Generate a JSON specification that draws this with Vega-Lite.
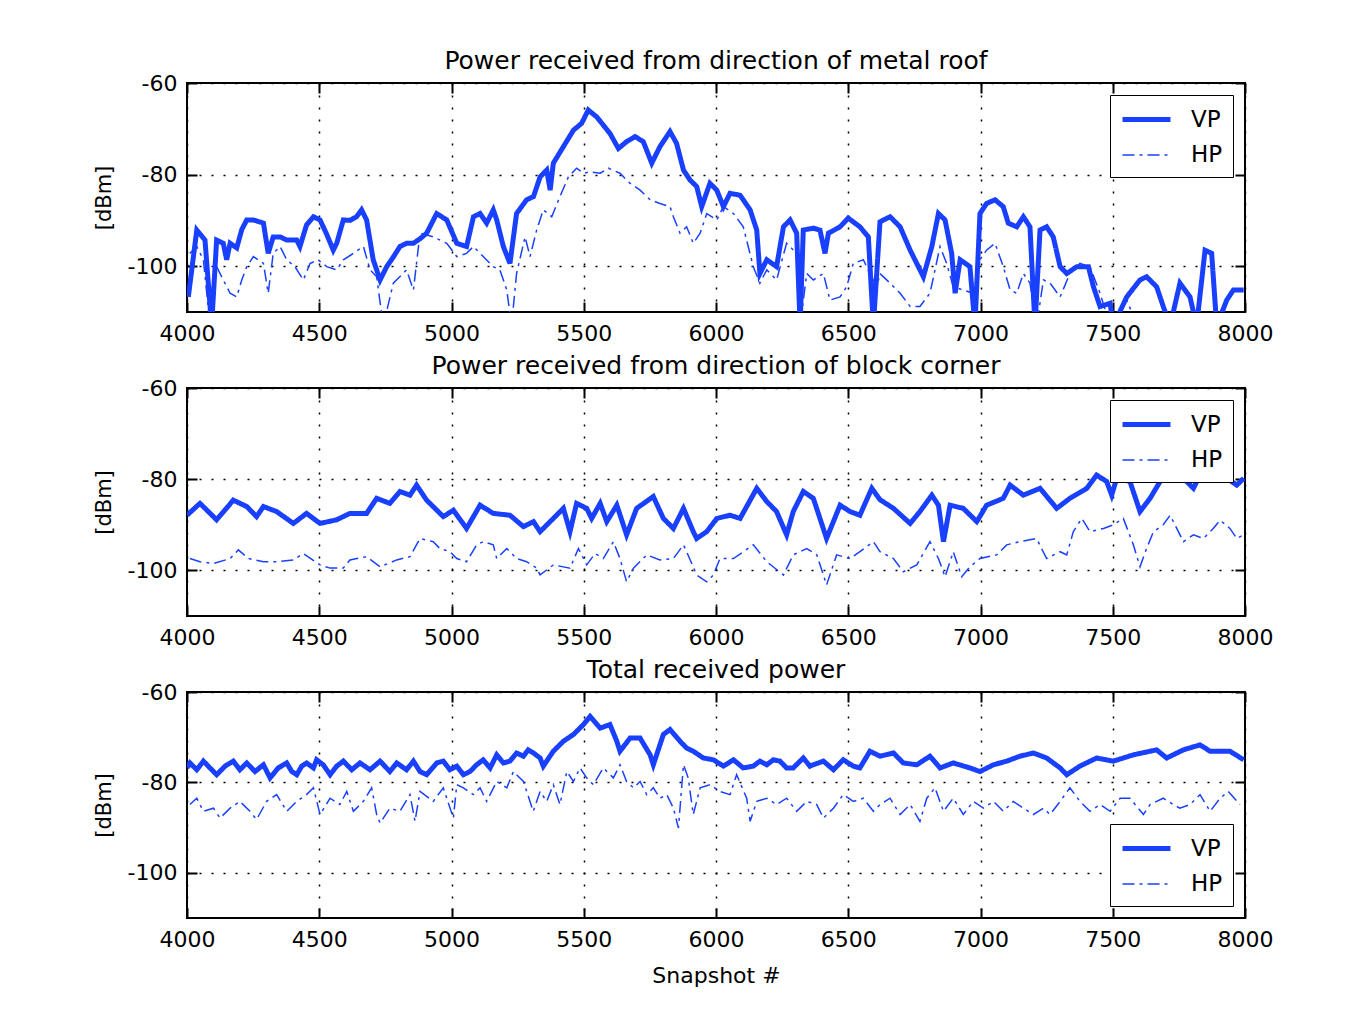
{
  "$schema": "https://vega.github.io/schema/vega-lite/v6.json",
  "autosize": {"type": "none"},
  "padding": {"left": 187, "top": 83, "right": 1168, "bottom": 944},
  "background": "white",
  "bounds": "flush",
  "spacing": 76,
  "config": {
    "font": "DejaVu Sans",
    "view": {"stroke": "black", "strokeWidth": 2},
    "axis": {"domain": false, "tickColor": "black", "tickWidth": 2, "tickSize": -10, "labelColor": "black", "labelFont": "DejaVu Sans", "labelFontSize": 22, "labelFlush": false, "labelOverlap": false, "labelBound": false, "labelExpr": "datum.value + ''", "gridColor": "black", "gridDash": [2, 10], "gridWidth": 1.5, "gridOpacity": 1, "titleFont": "DejaVu Sans", "titleFontSize": 21, "titleFontWeight": "normal", "titleColor": "black"},
    "title": {"font": "DejaVu Sans", "fontSize": 25, "fontWeight": "normal", "color": "black", "offset": -2, "baseline": "bottom"},
    "legend": {"fillColor": "white", "strokeColor": "black", "padding": 10, "labelFont": "DejaVu Sans", "labelFontSize": 23, "labelColor": "black", "symbolType": "M-2,0H2", "symbolSize": 576, "symbolOffset": 12, "symbolStrokeColor": "#1a40ff", "rowPadding": 10, "labelOffset": 30, "offset": 12}
  },
  "resolve": {"legend": {"strokeDash": "independent", "strokeWidth": "independent"}},
  "datasets": {
    "p1": [
      {"s":"VP","x":4005,"y":-106.7},{"s":"VP","x":4037,"y":-92.1},{"s":"VP","x":4068,"y":-94.3},{"s":"VP","x":4093,"y":-113},{"s":"VP","x":4112,"y":-94.3},{"s":"VP","x":4137,"y":-95.0},{"s":"VP","x":4150,"y":-98.6},{"s":"VP","x":4163,"y":-95.0},{"s":"VP","x":4188,"y":-96.0},{"s":"VP","x":4207,"y":-92.0},{"s":"VP","x":4226,"y":-89.9},{"s":"VP","x":4251,"y":-89.9},{"s":"VP","x":4289,"y":-90.6},{"s":"VP","x":4307,"y":-97.2},{"s":"VP","x":4326,"y":-93.6},{"s":"VP","x":4352,"y":-93.6},{"s":"VP","x":4377,"y":-94.3},{"s":"VP","x":4415,"y":-94.3},{"s":"VP","x":4427,"y":-95.7},{"s":"VP","x":4452,"y":-91.0},{"s":"VP","x":4478,"y":-89.2},{"s":"VP","x":4503,"y":-89.9},{"s":"VP","x":4528,"y":-93.0},{"s":"VP","x":4553,"y":-96.5},{"s":"VP","x":4566,"y":-95.0},{"s":"VP","x":4591,"y":-89.9},{"s":"VP","x":4616,"y":-90.0},{"s":"VP","x":4641,"y":-89.2},{"s":"VP","x":4660,"y":-87.7},{"s":"VP","x":4679,"y":-89.9},{"s":"VP","x":4704,"y":-98.6},{"s":"VP","x":4730,"y":-103.0},{"s":"VP","x":4755,"y":-100.1},{"s":"VP","x":4780,"y":-98.0},{"s":"VP","x":4805,"y":-95.7},{"s":"VP","x":4830,"y":-95.0},{"s":"VP","x":4856,"y":-95.0},{"s":"VP","x":4881,"y":-94.0},{"s":"VP","x":4906,"y":-92.8},{"s":"VP","x":4944,"y":-88.5},{"s":"VP","x":4982,"y":-89.9},{"s":"VP","x":5020,"y":-95.0},{"s":"VP","x":5057,"y":-95.7},{"s":"VP","x":5083,"y":-89.2},{"s":"VP","x":5108,"y":-88.5},{"s":"VP","x":5133,"y":-90.6},{"s":"VP","x":5158,"y":-87.7},{"s":"VP","x":5171,"y":-89.9},{"s":"VP","x":5196,"y":-95.7},{"s":"VP","x":5221,"y":-99.4},{"s":"VP","x":5246,"y":-88.5},{"s":"VP","x":5284,"y":-85.5},{"s":"VP","x":5310,"y":-84.8},{"s":"VP","x":5335,"y":-80.5},{"s":"VP","x":5360,"y":-79.0},{"s":"VP","x":5373,"y":-83.4},{"s":"VP","x":5385,"y":-77.5},{"s":"VP","x":5423,"y":-73.9},{"s":"VP","x":5461,"y":-70.3},{"s":"VP","x":5492,"y":-68.8},{"s":"VP","x":5517,"y":-65.9},{"s":"VP","x":5549,"y":-67.4},{"s":"VP","x":5599,"y":-71.0},{"s":"VP","x":5631,"y":-74.3},{"s":"VP","x":5662,"y":-72.8},{"s":"VP","x":5694,"y":-71.7},{"s":"VP","x":5725,"y":-72.8},{"s":"VP","x":5757,"y":-77.5},{"s":"VP","x":5788,"y":-73.9},{"s":"VP","x":5826,"y":-70.6},{"s":"VP","x":5851,"y":-73.2},{"s":"VP","x":5877,"y":-79.0},{"s":"VP","x":5902,"y":-81.2},{"s":"VP","x":5927,"y":-82.6},{"s":"VP","x":5946,"y":-87.0},{"s":"VP","x":5977,"y":-81.9},{"s":"VP","x":6003,"y":-83.4},{"s":"VP","x":6028,"y":-87.0},{"s":"VP","x":6053,"y":-84.1},{"s":"VP","x":6091,"y":-84.5},{"s":"VP","x":6129,"y":-87.7},{"s":"VP","x":6154,"y":-92.1},{"s":"VP","x":6166,"y":-101.6},{"s":"VP","x":6192,"y":-98.6},{"s":"VP","x":6229,"y":-100.1},{"s":"VP","x":6255,"y":-91.4},{"s":"VP","x":6280,"y":-89.9},{"s":"VP","x":6305,"y":-92.8},{"s":"VP","x":6318,"y":-113},{"s":"VP","x":6330,"y":-92.1},{"s":"VP","x":6368,"y":-91.7},{"s":"VP","x":6393,"y":-92.1},{"s":"VP","x":6412,"y":-97.2},{"s":"VP","x":6425,"y":-92.8},{"s":"VP","x":6469,"y":-91.4},{"s":"VP","x":6500,"y":-89.5},{"s":"VP","x":6544,"y":-91.4},{"s":"VP","x":6576,"y":-93.6},{"s":"VP","x":6595,"y":-113},{"s":"VP","x":6620,"y":-90.3},{"s":"VP","x":6658,"y":-89.2},{"s":"VP","x":6696,"y":-91.4},{"s":"VP","x":6734,"y":-96.5},{"s":"VP","x":6784,"y":-102.3},{"s":"VP","x":6816,"y":-95.7},{"s":"VP","x":6841,"y":-88.5},{"s":"VP","x":6866,"y":-89.9},{"s":"VP","x":6891,"y":-97.2},{"s":"VP","x":6904,"y":-105.9},{"s":"VP","x":6923,"y":-98.6},{"s":"VP","x":6960,"y":-100.1},{"s":"VP","x":6979,"y":-113},{"s":"VP","x":6998,"y":-88.5},{"s":"VP","x":7023,"y":-86.3},{"s":"VP","x":7055,"y":-85.5},{"s":"VP","x":7086,"y":-87.0},{"s":"VP","x":7105,"y":-90.6},{"s":"VP","x":7137,"y":-91.4},{"s":"VP","x":7162,"y":-89.2},{"s":"VP","x":7187,"y":-91.4},{"s":"VP","x":7206,"y":-113},{"s":"VP","x":7225,"y":-92.1},{"s":"VP","x":7250,"y":-91.4},{"s":"VP","x":7275,"y":-93.6},{"s":"VP","x":7301,"y":-100.1},{"s":"VP","x":7326,"y":-101.6},{"s":"VP","x":7364,"y":-100.1},{"s":"VP","x":7408,"y":-100.1},{"s":"VP","x":7427,"y":-104.5},{"s":"VP","x":7452,"y":-108.8},{"s":"VP","x":7490,"y":-108.1},{"s":"VP","x":7502,"y":-113},{"s":"VP","x":7553,"y":-106.7},{"s":"VP","x":7603,"y":-103.0},{"s":"VP","x":7628,"y":-102.3},{"s":"VP","x":7666,"y":-104.5},{"s":"VP","x":7691,"y":-108.8},{"s":"VP","x":7717,"y":-113},{"s":"VP","x":7754,"y":-103.7},{"s":"VP","x":7792,"y":-106.7},{"s":"VP","x":7817,"y":-113},{"s":"VP","x":7849,"y":-96.5},{"s":"VP","x":7874,"y":-97.2},{"s":"VP","x":7893,"y":-113},{"s":"VP","x":7931,"y":-107.4},{"s":"VP","x":7956,"y":-105.2},{"s":"VP","x":7995,"y":-105.2},
      {"s":"HP","x":4011,"y":-97.2},{"s":"HP","x":4037,"y":-95.7},{"s":"HP","x":4062,"y":-98.6},{"s":"HP","x":4087,"y":-113},{"s":"HP","x":4112,"y":-100.1},{"s":"HP","x":4137,"y":-103.0},{"s":"HP","x":4163,"y":-105.9},{"s":"HP","x":4188,"y":-106.7},{"s":"HP","x":4207,"y":-103.0},{"s":"HP","x":4226,"y":-100.1},{"s":"HP","x":4251,"y":-97.9},{"s":"HP","x":4289,"y":-99.4},{"s":"HP","x":4307,"y":-105.9},{"s":"HP","x":4326,"y":-97.2},{"s":"HP","x":4352,"y":-95.7},{"s":"HP","x":4377,"y":-98.6},{"s":"HP","x":4408,"y":-100.1},{"s":"HP","x":4440,"y":-103.0},{"s":"HP","x":4465,"y":-99.4},{"s":"HP","x":4496,"y":-98.6},{"s":"HP","x":4528,"y":-100.1},{"s":"HP","x":4566,"y":-100.8},{"s":"HP","x":4591,"y":-98.6},{"s":"HP","x":4629,"y":-97.2},{"s":"HP","x":4667,"y":-95.7},{"s":"HP","x":4692,"y":-100.8},{"s":"HP","x":4717,"y":-102.3},{"s":"HP","x":4742,"y":-113},{"s":"HP","x":4780,"y":-103.7},{"s":"HP","x":4830,"y":-100.8},{"s":"HP","x":4856,"y":-105.2},{"s":"HP","x":4881,"y":-92.8},{"s":"HP","x":4931,"y":-93.6},{"s":"HP","x":4982,"y":-95.0},{"s":"HP","x":5020,"y":-97.9},{"s":"HP","x":5057,"y":-97.2},{"s":"HP","x":5083,"y":-95.7},{"s":"HP","x":5120,"y":-97.9},{"s":"HP","x":5158,"y":-100.1},{"s":"HP","x":5183,"y":-100.8},{"s":"HP","x":5209,"y":-105.2},{"s":"HP","x":5227,"y":-113},{"s":"HP","x":5246,"y":-101.6},{"s":"HP","x":5278,"y":-93.6},{"s":"HP","x":5297,"y":-97.9},{"s":"HP","x":5322,"y":-92.1},{"s":"HP","x":5347,"y":-87.7},{"s":"HP","x":5379,"y":-89.2},{"s":"HP","x":5410,"y":-84.8},{"s":"HP","x":5442,"y":-80.5},{"s":"HP","x":5473,"y":-78.6},{"s":"HP","x":5499,"y":-79.7},{"s":"HP","x":5524,"y":-79.4},{"s":"HP","x":5562,"y":-79.7},{"s":"HP","x":5593,"y":-78.6},{"s":"HP","x":5637,"y":-79.7},{"s":"HP","x":5675,"y":-81.9},{"s":"HP","x":5713,"y":-83.4},{"s":"HP","x":5751,"y":-85.5},{"s":"HP","x":5788,"y":-86.3},{"s":"HP","x":5826,"y":-87.0},{"s":"HP","x":5839,"y":-89.2},{"s":"HP","x":5864,"y":-92.8},{"s":"HP","x":5889,"y":-91.4},{"s":"HP","x":5914,"y":-95.0},{"s":"HP","x":5940,"y":-92.8},{"s":"HP","x":5965,"y":-88.5},{"s":"HP","x":6003,"y":-89.9},{"s":"HP","x":6028,"y":-87.0},{"s":"HP","x":6066,"y":-88.5},{"s":"HP","x":6103,"y":-91.4},{"s":"HP","x":6141,"y":-100.1},{"s":"HP","x":6166,"y":-103.7},{"s":"HP","x":6192,"y":-100.8},{"s":"HP","x":6229,"y":-103.0},{"s":"HP","x":6267,"y":-95.0},{"s":"HP","x":6305,"y":-97.2},{"s":"HP","x":6318,"y":-113},{"s":"HP","x":6343,"y":-101.6},{"s":"HP","x":6368,"y":-103.0},{"s":"HP","x":6406,"y":-101.6},{"s":"HP","x":6431,"y":-107.4},{"s":"HP","x":6469,"y":-106.7},{"s":"HP","x":6494,"y":-104.5},{"s":"HP","x":6519,"y":-99.4},{"s":"HP","x":6557,"y":-98.6},{"s":"HP","x":6582,"y":-101.6},{"s":"HP","x":6608,"y":-104.5},{"s":"HP","x":6620,"y":-101.6},{"s":"HP","x":6658,"y":-103.7},{"s":"HP","x":6696,"y":-105.9},{"s":"HP","x":6734,"y":-108.8},{"s":"HP","x":6771,"y":-108.8},{"s":"HP","x":6809,"y":-105.9},{"s":"HP","x":6847,"y":-95.7},{"s":"HP","x":6872,"y":-99.4},{"s":"HP","x":6897,"y":-104.5},{"s":"HP","x":6935,"y":-105.2},{"s":"HP","x":6973,"y":-105.9},{"s":"HP","x":6998,"y":-98.6},{"s":"HP","x":7023,"y":-96.5},{"s":"HP","x":7055,"y":-95.0},{"s":"HP","x":7086,"y":-100.1},{"s":"HP","x":7112,"y":-105.2},{"s":"HP","x":7137,"y":-105.9},{"s":"HP","x":7162,"y":-101.6},{"s":"HP","x":7187,"y":-103.7},{"s":"HP","x":7212,"y":-113},{"s":"HP","x":7238,"y":-103.0},{"s":"HP","x":7263,"y":-103.7},{"s":"HP","x":7301,"y":-106.7},{"s":"HP","x":7338,"y":-101.6},{"s":"HP","x":7376,"y":-99.4},{"s":"HP","x":7414,"y":-100.1},{"s":"HP","x":7452,"y":-105.9},{"s":"HP","x":7490,"y":-113},{"s":"HP","x":7553,"y":-107.4},{"s":"HP","x":7600,"y":-114},{"s":"HP","x":7800,"y":-114},{"s":"HP","x":8000,"y":-114}
    ],
    "p2": [
      {"s":"VP","x":4000,"y":-87.9},{"s":"VP","x":4049,"y":-85.3},{"s":"VP","x":4112,"y":-88.9},{"s":"VP","x":4175,"y":-84.6},{"s":"VP","x":4226,"y":-86.0},{"s":"VP","x":4263,"y":-88.2},{"s":"VP","x":4289,"y":-86.0},{"s":"VP","x":4339,"y":-87.1},{"s":"VP","x":4402,"y":-89.7},{"s":"VP","x":4452,"y":-87.5},{"s":"VP","x":4503,"y":-89.7},{"s":"VP","x":4566,"y":-88.9},{"s":"VP","x":4616,"y":-87.5},{"s":"VP","x":4679,"y":-87.5},{"s":"VP","x":4717,"y":-84.2},{"s":"VP","x":4767,"y":-85.3},{"s":"VP","x":4805,"y":-82.7},{"s":"VP","x":4843,"y":-83.5},{"s":"VP","x":4868,"y":-81.3},{"s":"VP","x":4906,"y":-84.6},{"s":"VP","x":4969,"y":-88.2},{"s":"VP","x":5007,"y":-86.8},{"s":"VP","x":5057,"y":-90.8},{"s":"VP","x":5108,"y":-85.7},{"s":"VP","x":5158,"y":-87.5},{"s":"VP","x":5221,"y":-87.9},{"s":"VP","x":5272,"y":-90.4},{"s":"VP","x":5310,"y":-89.3},{"s":"VP","x":5335,"y":-91.5},{"s":"VP","x":5385,"y":-88.6},{"s":"VP","x":5423,"y":-86.4},{"s":"VP","x":5448,"y":-91.5},{"s":"VP","x":5473,"y":-85.3},{"s":"VP","x":5511,"y":-86.4},{"s":"VP","x":5530,"y":-88.6},{"s":"VP","x":5562,"y":-85.3},{"s":"VP","x":5587,"y":-89.3},{"s":"VP","x":5625,"y":-85.7},{"s":"VP","x":5662,"y":-92.2},{"s":"VP","x":5700,"y":-86.4},{"s":"VP","x":5763,"y":-83.8},{"s":"VP","x":5801,"y":-88.6},{"s":"VP","x":5839,"y":-90.8},{"s":"VP","x":5877,"y":-86.4},{"s":"VP","x":5914,"y":-91.5},{"s":"VP","x":5927,"y":-93.0},{"s":"VP","x":5965,"y":-91.5},{"s":"VP","x":6003,"y":-88.6},{"s":"VP","x":6053,"y":-87.9},{"s":"VP","x":6091,"y":-88.6},{"s":"VP","x":6154,"y":-82.0},{"s":"VP","x":6192,"y":-84.9},{"s":"VP","x":6229,"y":-87.1},{"s":"VP","x":6267,"y":-92.2},{"s":"VP","x":6292,"y":-87.1},{"s":"VP","x":6330,"y":-82.7},{"s":"VP","x":6368,"y":-84.2},{"s":"VP","x":6418,"y":-93.0},{"s":"VP","x":6469,"y":-85.7},{"s":"VP","x":6507,"y":-87.1},{"s":"VP","x":6544,"y":-87.9},{"s":"VP","x":6589,"y":-82.0},{"s":"VP","x":6620,"y":-84.5},{"s":"VP","x":6671,"y":-86.4},{"s":"VP","x":6734,"y":-89.7},{"s":"VP","x":6771,"y":-87.1},{"s":"VP","x":6816,"y":-83.5},{"s":"VP","x":6841,"y":-85.7},{"s":"VP","x":6860,"y":-93.7},{"s":"VP","x":6885,"y":-85.7},{"s":"VP","x":6935,"y":-86.4},{"s":"VP","x":6986,"y":-89.3},{"s":"VP","x":7023,"y":-85.7},{"s":"VP","x":7086,"y":-84.2},{"s":"VP","x":7112,"y":-81.3},{"s":"VP","x":7162,"y":-83.5},{"s":"VP","x":7225,"y":-82.0},{"s":"VP","x":7288,"y":-86.4},{"s":"VP","x":7338,"y":-84.2},{"s":"VP","x":7402,"y":-82.0},{"s":"VP","x":7439,"y":-79.1},{"s":"VP","x":7477,"y":-80.5},{"s":"VP","x":7496,"y":-83.5},{"s":"VP","x":7515,"y":-79.8},{"s":"VP","x":7565,"y":-80.5},{"s":"VP","x":7603,"y":-87.1},{"s":"VP","x":7641,"y":-84.2},{"s":"VP","x":7679,"y":-80.5},{"s":"VP","x":7704,"y":-78.3},{"s":"VP","x":7754,"y":-79.0},{"s":"VP","x":7805,"y":-82.0},{"s":"VP","x":7830,"y":-79.1},{"s":"VP","x":7880,"y":-79.0},{"s":"VP","x":7931,"y":-79.8},{"s":"VP","x":7969,"y":-81.3},{"s":"VP","x":7995,"y":-79.8},
      {"s":"HP","x":4011,"y":-97.4},{"s":"HP","x":4049,"y":-98.1},{"s":"HP","x":4100,"y":-98.5},{"s":"HP","x":4163,"y":-97.4},{"s":"HP","x":4194,"y":-95.5},{"s":"HP","x":4232,"y":-97.4},{"s":"HP","x":4289,"y":-98.1},{"s":"HP","x":4339,"y":-98.1},{"s":"HP","x":4402,"y":-97.7},{"s":"HP","x":4440,"y":-96.3},{"s":"HP","x":4503,"y":-98.8},{"s":"HP","x":4541,"y":-99.5},{"s":"HP","x":4591,"y":-99.5},{"s":"HP","x":4616,"y":-97.7},{"s":"HP","x":4679,"y":-97.0},{"s":"HP","x":4730,"y":-99.2},{"s":"HP","x":4793,"y":-97.7},{"s":"HP","x":4843,"y":-97.0},{"s":"HP","x":4881,"y":-93.0},{"s":"HP","x":4931,"y":-93.7},{"s":"HP","x":4956,"y":-95.2},{"s":"HP","x":4994,"y":-95.9},{"s":"HP","x":5020,"y":-97.4},{"s":"HP","x":5057,"y":-98.1},{"s":"HP","x":5095,"y":-94.4},{"s":"HP","x":5120,"y":-93.7},{"s":"HP","x":5158,"y":-94.4},{"s":"HP","x":5171,"y":-97.4},{"s":"HP","x":5209,"y":-95.2},{"s":"HP","x":5246,"y":-97.4},{"s":"HP","x":5284,"y":-98.1},{"s":"HP","x":5322,"y":-99.5},{"s":"HP","x":5335,"y":-101.0},{"s":"HP","x":5385,"y":-98.8},{"s":"HP","x":5448,"y":-99.5},{"s":"HP","x":5480,"y":-95.2},{"s":"HP","x":5511,"y":-98.8},{"s":"HP","x":5543,"y":-96.3},{"s":"HP","x":5574,"y":-97.4},{"s":"HP","x":5612,"y":-93.7},{"s":"HP","x":5637,"y":-97.4},{"s":"HP","x":5662,"y":-102.5},{"s":"HP","x":5688,"y":-99.5},{"s":"HP","x":5738,"y":-96.6},{"s":"HP","x":5788,"y":-97.7},{"s":"HP","x":5839,"y":-97.4},{"s":"HP","x":5877,"y":-94.4},{"s":"HP","x":5889,"y":-95.9},{"s":"HP","x":5927,"y":-101.0},{"s":"HP","x":5965,"y":-102.5},{"s":"HP","x":5990,"y":-101.0},{"s":"HP","x":6015,"y":-97.4},{"s":"HP","x":6066,"y":-97.4},{"s":"HP","x":6141,"y":-94.4},{"s":"HP","x":6192,"y":-98.1},{"s":"HP","x":6255,"y":-101.0},{"s":"HP","x":6292,"y":-96.6},{"s":"HP","x":6343,"y":-95.2},{"s":"HP","x":6381,"y":-96.6},{"s":"HP","x":6406,"y":-101.0},{"s":"HP","x":6418,"y":-103.2},{"s":"HP","x":6456,"y":-96.6},{"s":"HP","x":6507,"y":-97.4},{"s":"HP","x":6544,"y":-95.9},{"s":"HP","x":6595,"y":-93.7},{"s":"HP","x":6620,"y":-95.9},{"s":"HP","x":6671,"y":-97.4},{"s":"HP","x":6708,"y":-100.3},{"s":"HP","x":6759,"y":-98.8},{"s":"HP","x":6809,"y":-93.7},{"s":"HP","x":6841,"y":-97.4},{"s":"HP","x":6866,"y":-101.4},{"s":"HP","x":6897,"y":-95.9},{"s":"HP","x":6929,"y":-101.4},{"s":"HP","x":6960,"y":-99.2},{"s":"HP","x":6998,"y":-97.4},{"s":"HP","x":7061,"y":-96.6},{"s":"HP","x":7099,"y":-94.4},{"s":"HP","x":7149,"y":-93.7},{"s":"HP","x":7212,"y":-93.0},{"s":"HP","x":7250,"y":-97.4},{"s":"HP","x":7301,"y":-95.9},{"s":"HP","x":7326,"y":-96.6},{"s":"HP","x":7351,"y":-91.5},{"s":"HP","x":7383,"y":-88.6},{"s":"HP","x":7414,"y":-91.5},{"s":"HP","x":7465,"y":-90.8},{"s":"HP","x":7502,"y":-90.0},{"s":"HP","x":7540,"y":-88.6},{"s":"HP","x":7578,"y":-94.4},{"s":"HP","x":7603,"y":-99.2},{"s":"HP","x":7628,"y":-95.2},{"s":"HP","x":7654,"y":-91.5},{"s":"HP","x":7691,"y":-90.0},{"s":"HP","x":7717,"y":-87.9},{"s":"HP","x":7742,"y":-90.8},{"s":"HP","x":7767,"y":-93.7},{"s":"HP","x":7805,"y":-92.2},{"s":"HP","x":7843,"y":-93.0},{"s":"HP","x":7880,"y":-90.8},{"s":"HP","x":7906,"y":-89.0},{"s":"HP","x":7943,"y":-90.8},{"s":"HP","x":7969,"y":-93.0},{"s":"HP","x":7995,"y":-92.2}
    ],
    "p3": [
      {"s":"VP","x":4000,"y":-76.8},{"s":"VP","x":4011,"y":-75.7},{"s":"VP","x":4037,"y":-77.2},{"s":"VP","x":4062,"y":-75.3},{"s":"VP","x":4087,"y":-76.8},{"s":"VP","x":4112,"y":-78.3},{"s":"VP","x":4144,"y":-76.4},{"s":"VP","x":4175,"y":-75.3},{"s":"VP","x":4200,"y":-77.2},{"s":"VP","x":4226,"y":-75.7},{"s":"VP","x":4257,"y":-77.6},{"s":"VP","x":4289,"y":-76.1},{"s":"VP","x":4314,"y":-79.0},{"s":"VP","x":4345,"y":-76.8},{"s":"VP","x":4377,"y":-75.7},{"s":"VP","x":4396,"y":-77.6},{"s":"VP","x":4415,"y":-78.3},{"s":"VP","x":4434,"y":-76.4},{"s":"VP","x":4452,"y":-75.7},{"s":"VP","x":4478,"y":-76.8},{"s":"VP","x":4490,"y":-75.0},{"s":"VP","x":4515,"y":-76.1},{"s":"VP","x":4541,"y":-78.3},{"s":"VP","x":4566,"y":-76.4},{"s":"VP","x":4591,"y":-75.3},{"s":"VP","x":4623,"y":-77.2},{"s":"VP","x":4654,"y":-75.7},{"s":"VP","x":4692,"y":-77.2},{"s":"VP","x":4730,"y":-75.3},{"s":"VP","x":4767,"y":-77.6},{"s":"VP","x":4793,"y":-75.7},{"s":"VP","x":4830,"y":-77.2},{"s":"VP","x":4856,"y":-75.3},{"s":"VP","x":4881,"y":-77.6},{"s":"VP","x":4906,"y":-78.3},{"s":"VP","x":4944,"y":-75.7},{"s":"VP","x":4969,"y":-75.3},{"s":"VP","x":4994,"y":-77.2},{"s":"VP","x":5020,"y":-76.4},{"s":"VP","x":5045,"y":-78.3},{"s":"VP","x":5070,"y":-77.6},{"s":"VP","x":5095,"y":-76.1},{"s":"VP","x":5120,"y":-75.0},{"s":"VP","x":5146,"y":-76.8},{"s":"VP","x":5171,"y":-73.9},{"s":"VP","x":5196,"y":-75.7},{"s":"VP","x":5221,"y":-75.3},{"s":"VP","x":5246,"y":-73.5},{"s":"VP","x":5272,"y":-74.2},{"s":"VP","x":5290,"y":-72.8},{"s":"VP","x":5310,"y":-73.5},{"s":"VP","x":5335,"y":-74.6},{"s":"VP","x":5347,"y":-76.4},{"s":"VP","x":5385,"y":-73.1},{"s":"VP","x":5423,"y":-70.9},{"s":"VP","x":5461,"y":-69.4},{"s":"VP","x":5499,"y":-67.2},{"s":"VP","x":5524,"y":-65.4},{"s":"VP","x":5562,"y":-68.0},{"s":"VP","x":5599,"y":-67.2},{"s":"VP","x":5625,"y":-70.9},{"s":"VP","x":5637,"y":-73.1},{"s":"VP","x":5675,"y":-70.2},{"s":"VP","x":5713,"y":-70.2},{"s":"VP","x":5751,"y":-73.9},{"s":"VP","x":5763,"y":-76.1},{"s":"VP","x":5801,"y":-69.4},{"s":"VP","x":5826,"y":-68.3},{"s":"VP","x":5864,"y":-70.9},{"s":"VP","x":5889,"y":-72.4},{"s":"VP","x":5914,"y":-73.1},{"s":"VP","x":5952,"y":-74.6},{"s":"VP","x":5990,"y":-75.0},{"s":"VP","x":6028,"y":-76.4},{"s":"VP","x":6066,"y":-75.0},{"s":"VP","x":6103,"y":-76.8},{"s":"VP","x":6141,"y":-76.4},{"s":"VP","x":6166,"y":-75.3},{"s":"VP","x":6192,"y":-76.1},{"s":"VP","x":6217,"y":-75.0},{"s":"VP","x":6242,"y":-75.3},{"s":"VP","x":6267,"y":-76.8},{"s":"VP","x":6292,"y":-76.8},{"s":"VP","x":6330,"y":-74.6},{"s":"VP","x":6355,"y":-76.4},{"s":"VP","x":6368,"y":-76.1},{"s":"VP","x":6406,"y":-75.3},{"s":"VP","x":6444,"y":-77.2},{"s":"VP","x":6481,"y":-75.0},{"s":"VP","x":6519,"y":-76.4},{"s":"VP","x":6544,"y":-76.8},{"s":"VP","x":6582,"y":-73.1},{"s":"VP","x":6620,"y":-74.2},{"s":"VP","x":6671,"y":-73.5},{"s":"VP","x":6708,"y":-75.7},{"s":"VP","x":6759,"y":-76.1},{"s":"VP","x":6809,"y":-74.2},{"s":"VP","x":6847,"y":-76.8},{"s":"VP","x":6897,"y":-75.7},{"s":"VP","x":6960,"y":-76.8},{"s":"VP","x":6998,"y":-77.6},{"s":"VP","x":7049,"y":-76.1},{"s":"VP","x":7099,"y":-75.3},{"s":"VP","x":7149,"y":-74.2},{"s":"VP","x":7200,"y":-73.5},{"s":"VP","x":7250,"y":-74.6},{"s":"VP","x":7301,"y":-76.8},{"s":"VP","x":7326,"y":-78.3},{"s":"VP","x":7376,"y":-76.4},{"s":"VP","x":7439,"y":-74.6},{"s":"VP","x":7502,"y":-75.3},{"s":"VP","x":7578,"y":-73.9},{"s":"VP","x":7666,"y":-72.8},{"s":"VP","x":7704,"y":-74.6},{"s":"VP","x":7767,"y":-72.8},{"s":"VP","x":7830,"y":-71.7},{"s":"VP","x":7868,"y":-73.1},{"s":"VP","x":7943,"y":-73.1},{"s":"VP","x":7995,"y":-75.0},
      {"s":"HP","x":4011,"y":-84.9},{"s":"HP","x":4037,"y":-83.5},{"s":"HP","x":4062,"y":-86.4},{"s":"HP","x":4100,"y":-85.7},{"s":"HP","x":4125,"y":-87.9},{"s":"HP","x":4163,"y":-85.7},{"s":"HP","x":4200,"y":-84.2},{"s":"HP","x":4238,"y":-86.4},{"s":"HP","x":4263,"y":-88.2},{"s":"HP","x":4301,"y":-84.2},{"s":"HP","x":4339,"y":-82.7},{"s":"HP","x":4377,"y":-86.4},{"s":"HP","x":4415,"y":-84.2},{"s":"HP","x":4452,"y":-82.7},{"s":"HP","x":4478,"y":-81.2},{"s":"HP","x":4503,"y":-87.1},{"s":"HP","x":4541,"y":-83.5},{"s":"HP","x":4578,"y":-84.9},{"s":"HP","x":4604,"y":-82.0},{"s":"HP","x":4629,"y":-86.4},{"s":"HP","x":4667,"y":-84.2},{"s":"HP","x":4698,"y":-81.2},{"s":"HP","x":4717,"y":-87.1},{"s":"HP","x":4730,"y":-89.0},{"s":"HP","x":4767,"y":-85.7},{"s":"HP","x":4805,"y":-86.4},{"s":"HP","x":4843,"y":-82.7},{"s":"HP","x":4862,"y":-88.6},{"s":"HP","x":4881,"y":-82.0},{"s":"HP","x":4931,"y":-84.2},{"s":"HP","x":4969,"y":-81.2},{"s":"HP","x":5007,"y":-87.9},{"s":"HP","x":5020,"y":-80.5},{"s":"HP","x":5045,"y":-81.2},{"s":"HP","x":5083,"y":-82.7},{"s":"HP","x":5108,"y":-81.2},{"s":"HP","x":5133,"y":-84.2},{"s":"HP","x":5171,"y":-79.8},{"s":"HP","x":5209,"y":-81.2},{"s":"HP","x":5234,"y":-77.6},{"s":"HP","x":5272,"y":-79.8},{"s":"HP","x":5309,"y":-86.4},{"s":"HP","x":5335,"y":-82.0},{"s":"HP","x":5360,"y":-84.2},{"s":"HP","x":5385,"y":-80.5},{"s":"HP","x":5410,"y":-84.9},{"s":"HP","x":5436,"y":-77.6},{"s":"HP","x":5461,"y":-79.8},{"s":"HP","x":5486,"y":-76.8},{"s":"HP","x":5511,"y":-79.0},{"s":"HP","x":5536,"y":-80.5},{"s":"HP","x":5574,"y":-76.8},{"s":"HP","x":5612,"y":-79.0},{"s":"HP","x":5637,"y":-76.1},{"s":"HP","x":5662,"y":-79.8},{"s":"HP","x":5688,"y":-81.2},{"s":"HP","x":5713,"y":-79.8},{"s":"HP","x":5738,"y":-82.7},{"s":"HP","x":5763,"y":-81.2},{"s":"HP","x":5788,"y":-83.5},{"s":"HP","x":5814,"y":-82.7},{"s":"HP","x":5839,"y":-85.7},{"s":"HP","x":5858,"y":-90.1},{"s":"HP","x":5877,"y":-76.1},{"s":"HP","x":5895,"y":-79.0},{"s":"HP","x":5914,"y":-87.1},{"s":"HP","x":5940,"y":-81.2},{"s":"HP","x":5977,"y":-80.5},{"s":"HP","x":6015,"y":-82.0},{"s":"HP","x":6053,"y":-82.7},{"s":"HP","x":6078,"y":-78.3},{"s":"HP","x":6116,"y":-83.5},{"s":"HP","x":6129,"y":-88.6},{"s":"HP","x":6154,"y":-84.2},{"s":"HP","x":6192,"y":-83.5},{"s":"HP","x":6229,"y":-84.9},{"s":"HP","x":6267,"y":-83.5},{"s":"HP","x":6305,"y":-86.4},{"s":"HP","x":6343,"y":-84.2},{"s":"HP","x":6381,"y":-84.9},{"s":"HP","x":6406,"y":-87.9},{"s":"HP","x":6444,"y":-85.7},{"s":"HP","x":6481,"y":-82.7},{"s":"HP","x":6519,"y":-84.2},{"s":"HP","x":6557,"y":-83.5},{"s":"HP","x":6595,"y":-86.4},{"s":"HP","x":6620,"y":-84.9},{"s":"HP","x":6658,"y":-83.5},{"s":"HP","x":6696,"y":-87.1},{"s":"HP","x":6734,"y":-84.9},{"s":"HP","x":6771,"y":-88.6},{"s":"HP","x":6797,"y":-83.5},{"s":"HP","x":6828,"y":-81.2},{"s":"HP","x":6860,"y":-86.4},{"s":"HP","x":6897,"y":-83.5},{"s":"HP","x":6935,"y":-87.1},{"s":"HP","x":6973,"y":-84.2},{"s":"HP","x":7011,"y":-85.7},{"s":"HP","x":7049,"y":-84.2},{"s":"HP","x":7086,"y":-86.4},{"s":"HP","x":7124,"y":-84.2},{"s":"HP","x":7162,"y":-85.7},{"s":"HP","x":7200,"y":-87.1},{"s":"HP","x":7238,"y":-85.7},{"s":"HP","x":7263,"y":-87.1},{"s":"HP","x":7301,"y":-84.2},{"s":"HP","x":7338,"y":-81.2},{"s":"HP","x":7376,"y":-84.2},{"s":"HP","x":7414,"y":-86.4},{"s":"HP","x":7452,"y":-84.9},{"s":"HP","x":7490,"y":-86.4},{"s":"HP","x":7528,"y":-83.5},{"s":"HP","x":7565,"y":-83.5},{"s":"HP","x":7616,"y":-87.1},{"s":"HP","x":7641,"y":-84.9},{"s":"HP","x":7691,"y":-83.5},{"s":"HP","x":7729,"y":-84.9},{"s":"HP","x":7754,"y":-85.7},{"s":"HP","x":7792,"y":-84.9},{"s":"HP","x":7830,"y":-82.7},{"s":"HP","x":7868,"y":-86.4},{"s":"HP","x":7906,"y":-83.5},{"s":"HP","x":7937,"y":-82.0},{"s":"HP","x":7981,"y":-84.9}
    ]
  },
  "vconcat": [
    {
      "width": 1058, "height": 229,
      "title": {"text": "Power received from direction of metal roof"},
      "data": {"name": "p1"},
      "layer": [
        {
          "mark": {"type": "line", "clip": true, "color": "#1a40ff"},
          "encoding": {
            "x": {"field": "x", "type": "quantitative", "scale": {"domain": [4000, 8000], "nice": false, "zero": false}, "axis": {"orient": "bottom", "values": [4000, 4500, 5000, 5500, 6000, 6500, 7000, 7500, 8000], "title": null, "grid": true, "labelPadding": 21}},
            "y": {"field": "y", "type": "quantitative", "scale": {"domain": [-110, -60], "nice": false, "zero": false}, "axis": {"orient": "left", "values": [-60, -80, -100], "title": "[dBm]", "grid": true, "labelPadding": 20, "titlePadding": 13}},
            "strokeDash": {"field": "s", "type": "nominal", "scale": {"domain": ["VP", "HP"], "range": [[1, 0], [12, 5, 3, 5]]}, "legend": {"title": null, "orient": "top-right"}},
            "strokeWidth": {"field": "s", "type": "nominal", "scale": {"domain": ["VP", "HP"], "range": [5, 1.5]}, "legend": {"title": null, "orient": "top-right"}}
          }
        },
        {
          "mark": {"type": "point", "opacity": 0},
          "encoding": {
            "x": {"field": "x", "type": "quantitative", "axis": {"orient": "top", "values": [4000, 4500, 5000, 5500, 6000, 6500, 7000, 7500, 8000], "labels": false, "title": null, "grid": false}},
            "y": {"field": "y", "type": "quantitative", "axis": {"orient": "right", "values": [-60, -80, -100], "labels": false, "title": null, "grid": false}}
          }
        }
      ]
    },
    {
      "width": 1058, "height": 228,
      "title": {"text": "Power received from direction of block corner"},
      "data": {"name": "p2"},
      "layer": [
        {
          "mark": {"type": "line", "clip": true, "color": "#1a40ff"},
          "encoding": {
            "x": {"field": "x", "type": "quantitative", "scale": {"domain": [4000, 8000], "nice": false, "zero": false}, "axis": {"orient": "bottom", "values": [4000, 4500, 5000, 5500, 6000, 6500, 7000, 7500, 8000], "title": null, "grid": true, "labelPadding": 21}},
            "y": {"field": "y", "type": "quantitative", "scale": {"domain": [-110, -60], "nice": false, "zero": false}, "axis": {"orient": "left", "values": [-60, -80, -100], "title": "[dBm]", "grid": true, "labelPadding": 20, "titlePadding": 13}},
            "strokeDash": {"field": "s", "type": "nominal", "scale": {"domain": ["VP", "HP"], "range": [[1, 0], [12, 5, 3, 5]]}, "legend": {"title": null, "orient": "top-right"}},
            "strokeWidth": {"field": "s", "type": "nominal", "scale": {"domain": ["VP", "HP"], "range": [5, 1.5]}, "legend": {"title": null, "orient": "top-right"}}
          }
        },
        {
          "mark": {"type": "point", "opacity": 0},
          "encoding": {
            "x": {"field": "x", "type": "quantitative", "axis": {"orient": "top", "values": [4000, 4500, 5000, 5500, 6000, 6500, 7000, 7500, 8000], "labels": false, "title": null, "grid": false}},
            "y": {"field": "y", "type": "quantitative", "axis": {"orient": "right", "values": [-60, -80, -100], "labels": false, "title": null, "grid": false}}
          }
        }
      ]
    },
    {
      "width": 1058, "height": 226,
      "title": {"text": "Total received power"},
      "data": {"name": "p3"},
      "layer": [
        {
          "mark": {"type": "line", "clip": true, "color": "#1a40ff"},
          "encoding": {
            "x": {"field": "x", "type": "quantitative", "scale": {"domain": [4000, 8000], "nice": false, "zero": false}, "axis": {"orient": "bottom", "values": [4000, 4500, 5000, 5500, 6000, 6500, 7000, 7500, 8000], "title": "Snapshot #", "titleFontSize": 22, "titlePadding": 15, "grid": true, "labelPadding": 21}},
            "y": {"field": "y", "type": "quantitative", "scale": {"domain": [-110, -60], "nice": false, "zero": false}, "axis": {"orient": "left", "values": [-60, -80, -100], "title": "[dBm]", "grid": true, "labelPadding": 20, "titlePadding": 13}},
            "strokeDash": {"field": "s", "type": "nominal", "scale": {"domain": ["VP", "HP"], "range": [[1, 0], [12, 5, 3, 5]]}, "legend": {"title": null, "orient": "bottom-right"}},
            "strokeWidth": {"field": "s", "type": "nominal", "scale": {"domain": ["VP", "HP"], "range": [5, 1.5]}, "legend": {"title": null, "orient": "bottom-right"}}
          }
        },
        {
          "mark": {"type": "point", "opacity": 0},
          "encoding": {
            "x": {"field": "x", "type": "quantitative", "axis": {"orient": "top", "values": [4000, 4500, 5000, 5500, 6000, 6500, 7000, 7500, 8000], "labels": false, "title": null, "grid": false}},
            "y": {"field": "y", "type": "quantitative", "axis": {"orient": "right", "values": [-60, -80, -100], "labels": false, "title": null, "grid": false}}
          }
        }
      ]
    }
  ]
}
